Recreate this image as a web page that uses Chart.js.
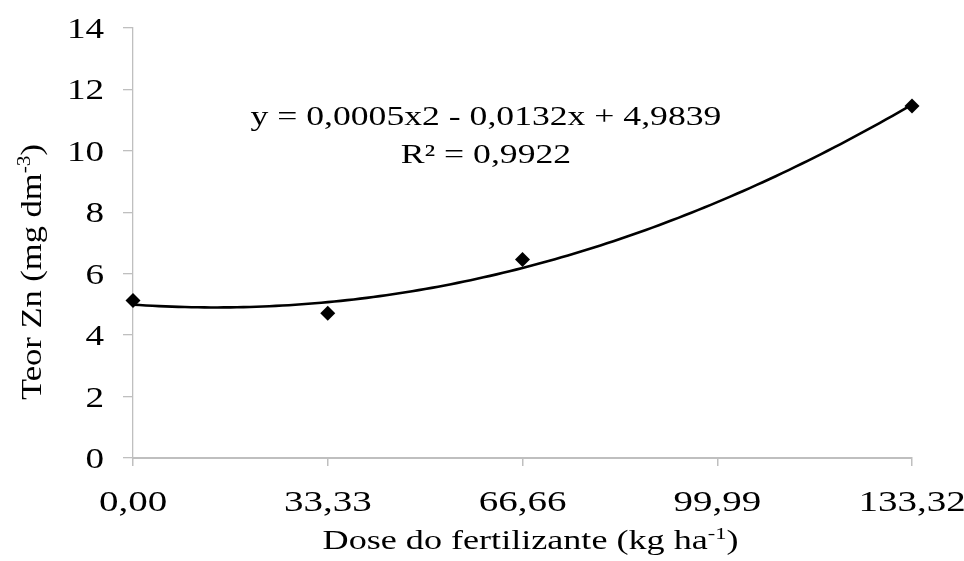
<!DOCTYPE html>
<html>
<head>
<meta charset="utf-8">
<title>Teor Zn x Dose do fertilizante</title>
<script src="https://cdn.jsdelivr.net/npm/chart.js@4.4.1/dist/chart.umd.min.js"></script>
<style>
  html, body { margin: 0; padding: 0; background: #ffffff; }
  #wrap { width: 964px; height: 561px; }
  canvas { display: block; }
</style>
</head>
<body>
<div id="wrap"><canvas id="chart" width="964" height="561"></canvas></div>
<script>
// Observed zinc content for each fertilizer dose
const doses = [0, 33.33, 66.66, 133.32];
const teorZn = [5.13, 4.71, 6.46, 11.46];

// Axis ticks and their printed labels
const xTicks = [0, 33.33, 66.66, 99.99, 133.32];
const xTickLabels = ['0,00', '33,33', '66,66', '99,99', '133,32'];
const yTicks = [0, 2, 4, 6, 8, 10, 12, 14];
const yTickLabels = ['0', '2', '4', '6', '8', '10', '12', '14'];

// Regression text shown on the plot
const equationText = 'y = 0,0005x2 - 0,0132x + 4,9839';
const r2Text = 'R² = 0,9922';

// Axis titles split into normal / superscript runs
const yTitleRuns = [{ t: 'Teor Zn (mg dm' }, { t: '-3', sup: true }, { t: ')' }];
const xTitleRuns = [{ t: 'Dose do fertilizante (kg ha' }, { t: '-1', sup: true }, { t: ')' }];

// Second-order least-squares polynomial through the observed points
function quadFit(xs, ys) {
  let s = [0, 0, 0, 0, 0], t = [0, 0, 0];
  for (let i = 0; i < xs.length; i++) {
    let p = 1;
    for (let k = 0; k < 5; k++) { s[k] += p; if (k < 3) t[k] += p * ys[i]; p *= xs[i]; }
  }
  const M = [[s[0], s[1], s[2], t[0]], [s[1], s[2], s[3], t[1]], [s[2], s[3], s[4], t[2]]];
  for (let c = 0; c < 3; c++) {
    for (let r = c + 1; r < 3; r++) {
      const f = M[r][c] / M[c][c];
      for (let k = c; k < 4; k++) M[r][k] -= f * M[c][k];
    }
  }
  const sol = [0, 0, 0];
  for (let r = 2; r >= 0; r--) {
    let v = M[r][3];
    for (let k = r + 1; k < 3; k++) v -= M[r][k] * sol[k];
    sol[r] = v / M[r][r];
  }
  return sol; // [c, b, a]
}
const coef = quadFit(doses, teorZn);
const trend = [];
const xEnd = doses[doses.length - 1];
for (let i = 0; i <= 120; i++) {
  const x = xEnd * i / 120;
  trend.push({ x: x, y: coef[0] + coef[1] * x + coef[2] * x * x });
}

const FONT = '"Liberation Serif", "Times New Roman", serif';

// Draws text runs widened along the baseline, with optional rotation and superscripts
function drawRuns(ctx, runs, x, y, o) {
  const size = o.size, sx = o.sx || 1;
  ctx.save();
  ctx.translate(x, y);
  if (o.rotate) ctx.rotate(o.rotate);
  ctx.scale(sx, 1);
  ctx.fillStyle = o.color || '#000';
  ctx.textBaseline = 'alphabetic';
  ctx.textAlign = 'left';
  const widths = runs.map(r => {
    ctx.font = (r.sup ? size * 0.62 : size) + 'px ' + FONT;
    return ctx.measureText(r.t).width;
  });
  const total = widths.reduce((a, b) => a + b, 0);
  let cx = o.align === 'center' ? -total / 2 : (o.align === 'right' ? -total : 0);
  runs.forEach((r, i) => {
    ctx.font = (r.sup ? size * 0.62 : size) + 'px ' + FONT;
    ctx.fillText(r.t, cx, r.sup ? -size * 0.36 : 0);
    cx += widths[i];
  });
  ctx.restore();
}

const textPlugin = {
  id: 'chartText',
  afterDraw(chart) {
    const ctx = chart.ctx;
    const xs = chart.scales.x, ys = chart.scales.y, area = chart.chartArea;
    // y tick labels
    yTicks.forEach((v, i) => {
      const py = ys.getPixelForValue(v);
      drawRuns(ctx, [{ t: yTickLabels[i] }], area.left - 29, py + 10, { size: 29, sx: 1.28, align: 'right' });
    });
    // x tick labels
    xTicks.forEach((v, i) => {
      const px = xs.getPixelForValue(v);
      drawRuns(ctx, [{ t: xTickLabels[i] }], px, area.bottom + 53, { size: 30, sx: 1.3, align: 'center' });
    });
    // axis titles
    drawRuns(ctx, xTitleRuns, (area.left + area.right) / 2 + 8, area.bottom + 91, { size: 28, sx: 1.29, align: 'center' });
    drawRuns(ctx, yTitleRuns, 41, (area.top + area.bottom) / 2 + 29, { size: 30, sx: 1.15, align: 'center', rotate: -Math.PI / 2 });
    // regression equation and R²
    const ex = xs.getPixelForValue(60.4);
    const ey = ys.getPixelForValue(10.84);
    drawRuns(ctx, [{ t: equationText }], ex, ey, { size: 27, sx: 1.32, align: 'center' });
    drawRuns(ctx, [{ t: r2Text }], ex, ey + 38, { size: 27, sx: 1.32, align: 'center' });
  }
};

const AXIS = '#bfbfbf';

new Chart(document.getElementById('chart'), {
  type: 'scatter',
  data: {
    datasets: [
      {
        label: 'Teor Zn',
        data: doses.map((d, i) => ({ x: d, y: teorZn[i] })),
        pointStyle: 'rectRot',
        pointRadius: 7.5,
        pointHoverRadius: 7.5,
        backgroundColor: '#000',
        borderColor: '#000',
        borderWidth: 0,
        clip: false,
        order: 0
      },
      {
        label: 'Polinomial',
        type: 'line',
        data: trend,
        borderColor: '#000',
        borderWidth: 2.6,
        pointRadius: 0,
        fill: false,
        tension: 0,
        clip: false,
        order: 1
      }
    ]
  },
  options: {
    responsive: false,
    animation: false,
    devicePixelRatio: 1,
    layout: { padding: { top: 28, right: 52, left: 0, bottom: 0 } },
    plugins: { legend: { display: false }, tooltip: { enabled: false } },
    scales: {
      x: {
        type: 'linear',
        min: 0,
        max: 133.32,
        afterBuildTicks: s => { s.ticks = xTicks.map(v => ({ value: v })); },
        afterFit: s => { s.height = 103; },
        ticks: { display: false },
        grid: { drawOnChartArea: false, drawTicks: true, tickLength: 8, color: AXIS, lineWidth: 1.5 },
        border: { color: AXIS, width: 2 }
      },
      y: {
        type: 'linear',
        min: 0,
        max: 14,
        afterBuildTicks: s => { s.ticks = yTicks.map(v => ({ value: v })); },
        afterFit: s => { s.width = 133; },
        ticks: { display: false },
        grid: { drawOnChartArea: false, drawTicks: true, tickLength: 10, color: AXIS, lineWidth: 1.3 },
        border: { color: AXIS, width: 1.3 }
      }
    }
  },
  plugins: [textPlugin]
});
</script>
</body>
</html>
